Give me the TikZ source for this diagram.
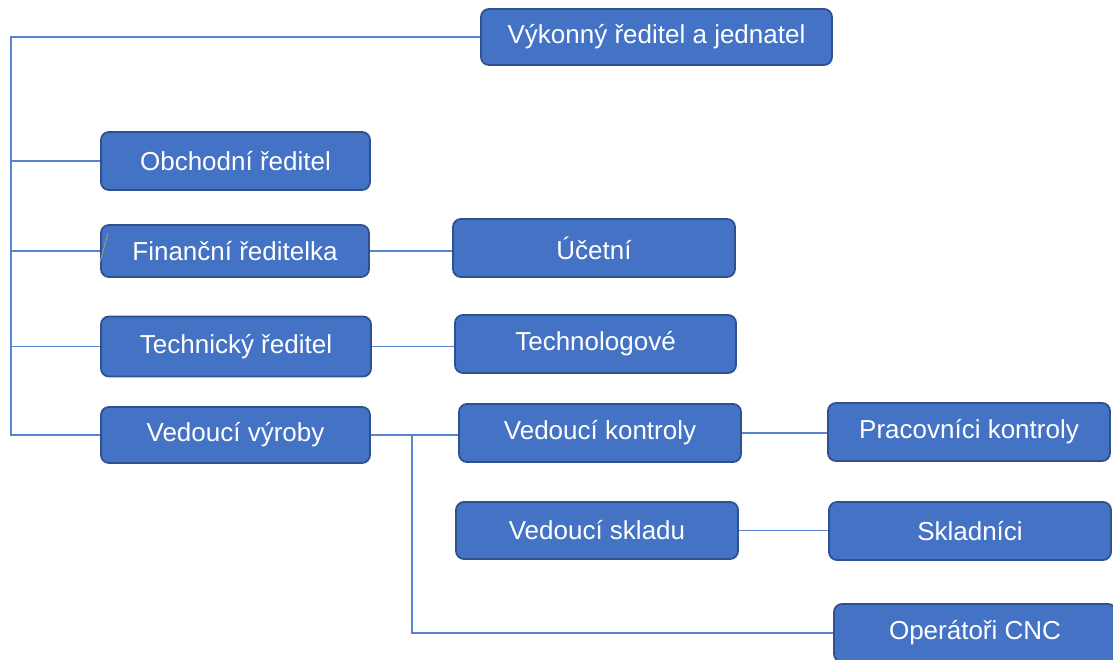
\documentclass[tikz,border=0pt]{standalone}
\usepackage{fontspec}
\setmainfont{Liberation Sans}
\definecolor{boxfill}{HTML}{4472C4}
\definecolor{boxline}{HTML}{2F528F}
\definecolor{connline}{HTML}{5B84D0}
\definecolor{stray}{HTML}{B89A6A}
\begin{document}
\begin{tikzpicture}[x=1pt,y=-1pt,
  box/.style={draw=boxline,line width=1.8pt,fill=boxfill,rounded corners=8pt,
    text=white,font=\fontsize{26}{30}\selectfont,inner sep=0pt,
    minimum width=282pt,minimum height=58pt},
  conn/.style={draw=connline,line width=1.3pt}]
\useasboundingbox (0,0) rectangle (1113,659);
\clip (0,0) rectangle (1113,659);
\node[box,minimum width=351pt,minimum height=56pt] (vk) at (656.5,37) {Výkonný ředitel a jednatel};
\node[box,minimum width=269pt] (ob) at (235.5,161) {Obchodní ředitel};
\node[box,minimum width=268pt,minimum height=52pt] (fin) at (235,251) {Finanční ředitelka};
\node[box] (uc) at (594,248) {Účetní};
\node[box,minimum width=270pt,minimum height=60pt] (tech) at (236,346.5) {Technický ředitel};
\node[box,minimum width=281pt] (techn) at (595.5,344) {Technologové};
\node[box,minimum width=269pt,minimum height=56pt] (vv) at (235.5,435) {Vedoucí výroby};
\node[box] (vkon) at (600,433) {Vedoucí kontroly};
\node[box] (prac) at (969,432) {Pracovníci kontroly};
\node[box,minimum height=57pt] (vskl) at (597,530.5) {Vedoucí skladu};
\node[box] (skl) at (970,531) {Skladníci};
\node[box] (cnc) at (975,633) {Operátoři CNC};
\coordinate (s) at (11,38);
\coordinate (j) at (412,435);
\draw[conn] (vk.west) -- (vk.west -| s) |- (vv.west);
\draw[conn] (ob.west) -- (ob.west -| s);
\draw[conn] (fin.west) -- (fin.west -| s);
\draw[conn] (tech.west) -- (tech.west -| s);
\draw[conn] (fin.east) -- (uc.west |- fin.east);
\draw[conn] (tech.east) -- (techn.west |- tech.east);
\draw[conn] (vv.east) -- (vkon.west |- vv.east);
\draw[conn] (j) |- (cnc.west);
\draw[conn] (vkon.east) -- (prac.west |- vkon.east);
\draw[conn] (vskl.east) -- (skl.west |- vskl.east);
\draw[stray,line width=0.8pt] (100,262) -- (108,233);
\end{tikzpicture}
\end{document}
